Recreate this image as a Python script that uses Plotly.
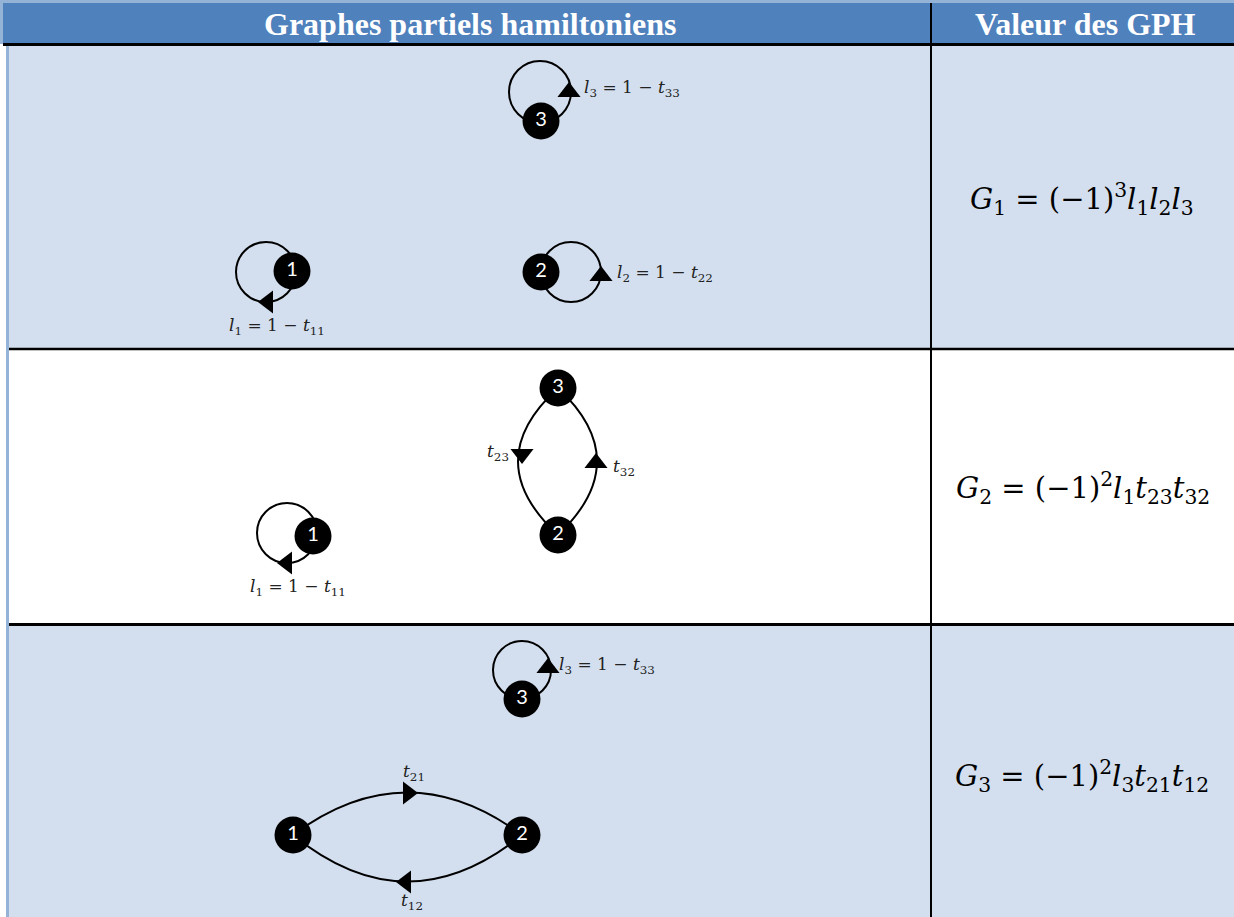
import plotly.graph_objects as go

W, H = 1234, 917

# ---- contenu du tableau ----
headers = ["Graphes partiels hamiltoniens", "Valeur des GPH"]
gph_values = [
    "<i>G</i><sub>1</sub> = (−1)<sup>3</sup><i>l</i><sub>1</sub><i>l</i><sub>2</sub><i>l</i><sub>3</sub>",
    "<i>G</i><sub>2</sub> = (−1)<sup>2</sup><i>l</i><sub>1</sub><i>t</i><sub>23</sub><i>t</i><sub>32</sub>",
    "<i>G</i><sub>3</sub> = (−1)<sup>2</sup><i>l</i><sub>3</sub><i>t</i><sub>21</sub><i>t</i><sub>12</sub>",
]
row1_nodes = ["3", "1", "2"]
row2_nodes = ["3", "2", "1"]
row3_nodes = ["3", "1", "2"]
row1_edge_labels = ["<i>l</i><sub>3</sub> = 1 − <i>t</i><sub>33</sub>",
                    "<i>l</i><sub>1</sub> = 1 − <i>t</i><sub>11</sub>",
                    "<i>l</i><sub>2</sub> = 1 − <i>t</i><sub>22</sub>"]
row2_edge_labels = ["<i>t</i><sub>23</sub>", "<i>t</i><sub>32</sub>",
                    "<i>l</i><sub>1</sub> = 1 − <i>t</i><sub>11</sub>"]
row3_edge_labels = ["<i>l</i><sub>3</sub> = 1 − <i>t</i><sub>33</sub>",
                    "<i>t</i><sub>21</sub>", "<i>t</i><sub>12</sub>"]

# ---- mise en page (pixels) ----
HEAD_BLUE = "#4f81bd"
ROW_BLUE = "#d3dfee"
EDGE_BLUE = "#95b3d7"
MATH_FONT = "DejaVu Serif"

rows = [(46, 348, ROW_BLUE), (350, 623, "white"), (626, 917, ROW_BLUE)]
split_x = 931

node_pos = {
    1: [(541, 121), (292, 271), (541, 272)],
    2: [(558, 388), (558, 535), (313, 536)],
    3: [(522, 699), (293, 835), (522, 835)],
}
# boucles : (cx, cy, r)
loops = [(540, 92, 31), (266, 272, 30), (571, 272, 30), (287, 533, 30), (522, 670, 29)]
# arcs : (x0, y0, cx, cy, x1, y1)
arcs = [(558, 388, 478, 461, 558, 535), (558, 388, 636, 461, 558, 535),
        (293, 835, 407, 750, 522, 835), (293, 835, 407, 928, 522, 835)]
# flèches : (x, y, symbole)
arrows = [(569, 92, "triangle-up"), (268, 302, "triangle-left"), (601, 276, "triangle-up"),
          (522, 454, "triangle-down"), (596, 463, "triangle-up"), (287, 563, "triangle-left"),
          (548, 668, "triangle-up"), (408, 793, "triangle-right"), (406, 882, "triangle-left")]
# étiquettes : (x, y, xanchor)
label_pos = {
    1: [(582, 88, "left"), (277, 326, "center"), (615, 273, "left")],
    2: [(511, 452, "right"), (611, 467, "left"), (298, 587, "center")],
    3: [(557, 665, "left"), (414, 772, "center"), (412, 901, "center")],
}
value_pos = [(1082, 199), (1083, 488), (1082, 776)]

fig = go.Figure()
shapes = []

# fond du tableau
shapes.append(dict(type="rect", x0=3, y0=3, x1=W, y1=44, fillcolor=HEAD_BLUE, line_width=0, layer="below"))
shapes.append(dict(type="line", x0=0, y0=1.5, x1=W, y1=1.5, line=dict(color=EDGE_BLUE, width=3), layer="below"))
shapes.append(dict(type="line", x0=1.5, y0=0, x1=1.5, y1=44, line=dict(color=EDGE_BLUE, width=3), layer="below"))
for y0, y1, col in rows:
    shapes.append(dict(type="rect", x0=9, y0=y0, x1=W, y1=y1, fillcolor=col, line_width=0, layer="below"))
shapes.append(dict(type="line", x0=7.5, y0=44, x1=7.5, y1=H, line=dict(color=EDGE_BLUE, width=3), layer="below"))
shapes.append(dict(type="line", x0=3, y0=44.5, x1=W, y1=44.5, line=dict(color="black", width=3), layer="below"))
shapes.append(dict(type="line", x0=9, y0=349, x1=W, y1=349, line=dict(color="black", width=2.5), layer="below"))
shapes.append(dict(type="line", x0=9, y0=624.5, x1=W, y1=624.5, line=dict(color="black", width=3), layer="below"))
shapes.append(dict(type="line", x0=split_x, y0=3, x1=split_x, y1=H, line=dict(color="black", width=2), layer="below"))

# boucles et arcs
for cx, cy, r in loops:
    shapes.append(dict(type="circle", x0=cx - r, y0=cy - r, x1=cx + r, y1=cy + r,
                       line=dict(color="black", width=2), layer="below"))
for x0, y0, cx, cy, x1, y1 in arcs:
    shapes.append(dict(type="path", path=f"M {x0},{y0} Q {cx},{cy} {x1},{y1}",
                       line=dict(color="black", width=2), layer="below"))

# flèches
fig.add_trace(go.Scatter(
    x=[a[0] for a in arrows], y=[a[1] for a in arrows], mode="markers",
    marker=dict(symbol=[a[2] for a in arrows], size=20, color="black", line_width=0),
    hoverinfo="skip", showlegend=False,
))

# sommets
names = {1: row1_nodes, 2: row2_nodes, 3: row3_nodes}
for r in (1, 2, 3):
    fig.add_trace(go.Scatter(
        x=[p[0] for p in node_pos[r]], y=[p[1] for p in node_pos[r]],
        mode="markers+text", text=names[r], textposition="middle center",
        textfont=dict(family="Lato", size=20, color="white"),
        marker=dict(size=37, color="black", line_width=0),
        hoverinfo="skip", showlegend=False,
    ))

annotations = []
annotations.append(dict(x=470, y=24, text=f"<b>{headers[0]}</b>", showarrow=False,
                        font=dict(family="Liberation Serif", size=32, color="white")))
annotations.append(dict(x=1085, y=24, text=f"<b>{headers[1]}</b>", showarrow=False,
                        font=dict(family="Liberation Serif", size=32, color="white")))
labels = {1: row1_edge_labels, 2: row2_edge_labels, 3: row3_edge_labels}
for r in (1, 2, 3):
    for (x, y, anc), txt in zip(label_pos[r], labels[r]):
        annotations.append(dict(x=x, y=y, text=txt, xanchor=anc, yanchor="middle", showarrow=False,
                                font=dict(family=MATH_FONT, size=17, color="#222222")))
for (x, y), txt in zip(value_pos, gph_values):
    annotations.append(dict(x=x, y=y, text=txt, showarrow=False,
                            font=dict(family=MATH_FONT, size=29, color="black")))

fig.update_layout(
    width=W, height=H, margin=dict(l=0, r=0, t=0, b=0),
    paper_bgcolor="white", plot_bgcolor="white",
    xaxis=dict(range=[0, W], visible=False, fixedrange=True),
    yaxis=dict(range=[H, 0], visible=False, fixedrange=True),
    shapes=shapes, annotations=annotations,
)
fig.write_html("out.html", config={"displayModeBar": False},
               post_script="document.body.style.margin='0';")
